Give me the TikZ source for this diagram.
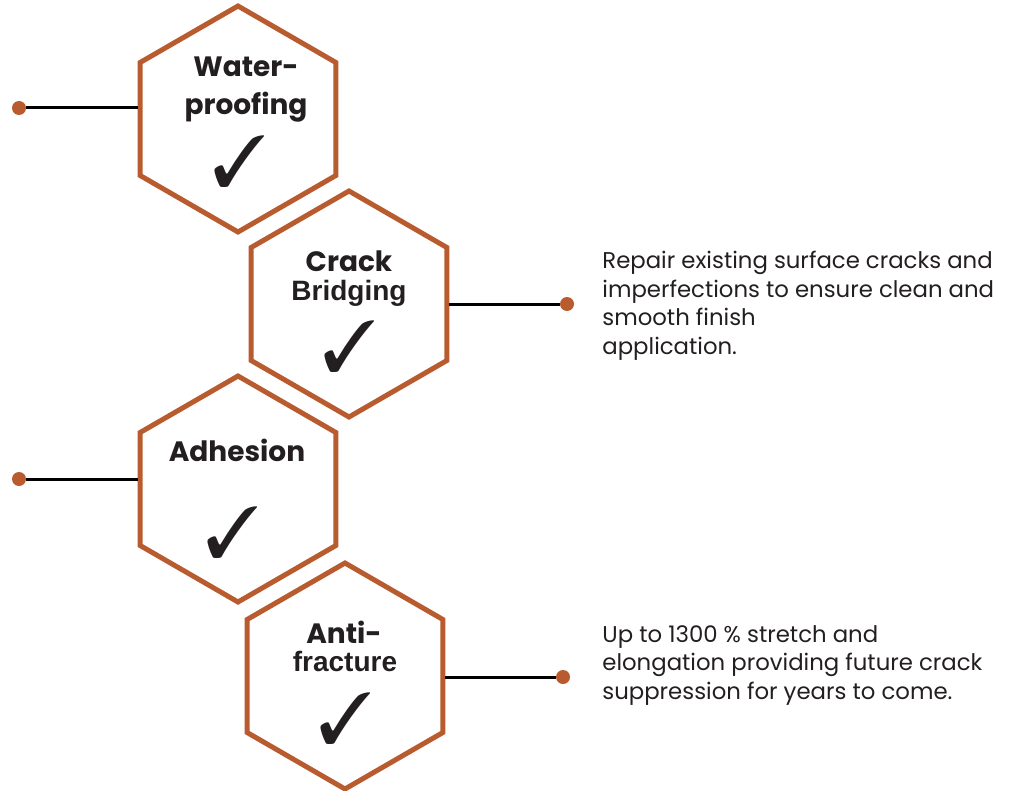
\documentclass[tikz,border=0pt]{standalone}
\usepackage{fontspec}
\setmainfont{Poppins}
\newfontfamily\arialfont{Liberation Sans}
\usepackage{pifont}
\usetikzlibrary{calc,shapes.geometric}
\definecolor{rust}{RGB}{184,92,48}
\definecolor{ink}{RGB}{35,31,32}

\begin{document}
\begin{tikzpicture}[x=0.5pt,y=-0.5pt,black]
	\tikzset{hexa/.style={draw=rust, regular polygon, regular polygon sides=6, shape border rotate=30, minimum size=113pt, inner sep=0pt, line width=2.5pt}}
	\tikzset{titulo/.style={text=ink, anchor=base, inner sep=0pt, font=\bfseries\fontsize{14}{17}\selectfont}}
	\tikzset{marca/.style={text=ink, inner sep=0pt, font=\fontsize{36}{36}\selectfont}}
	\tikzset{punto/.style={circle, fill=rust, inner sep=0pt, minimum size=7pt}}
	\tikzset{texto/.style={text=ink, anchor=north west, inner sep=0pt, align=left, font=\fontsize{11.4}{14.25}\selectfont}}
	\useasboundingbox (0,0) rectangle (1027,791);
	\node[hexa] at (238,119) (W){};
	\node[hexa] at (349,304) (CB){};
	\node[hexa] at (238,489) (AD){};
	\node[hexa] at (345,676) (AF){};
	\node[titulo] at ($(W)+(8,-42)$) (Wa){Water-};
	\node[titulo] at ($(W)+(8,-4)$) (Wb){proofing};
	\node[titulo] at ($(CB)+(0,-33)$) (CBa){Crack};
	\node[titulo] at ($(CB)+(0,-4)$) (CBb){\arialfont\bfseries Bridging};
	\node[titulo] at ($(AD)+(-1,-28)$) (ADa){Adhesion};
	\node[titulo] at ($(AF)+(-1,-33)$) (AFa){Anti-};
	\node[titulo] at ($(AF)+(0,-5)$) (AFb){\arialfont\bfseries fracture};
	\node[marca] at ($(W)+(2,42)$) (Wc){\ding{51}};
	\node[marca] at ($(CB)+(1,42)$) (CBc){\ding{51}};
	\node[marca] at ($(AD)+(-5,43)$) (ADc){\ding{51}};
	\node[marca] at ($(AF)+(1,42)$) (AFc){\ding{51}};
	\node[punto] at (19,108) (p1){};
	\node[punto] at (567,304) (p2){};
	\node[punto] at (19,479) (p3){};
	\node[punto] at (563,677) (p4){};
	\draw[line width=1.5pt] (p1) -- (W.west |- p1);
	\draw[line width=1.5pt] (CB.east) -- (p2);
	\draw[line width=1.5pt] (p3) -- (AD.west |- p3);
	\draw[line width=1.5pt] (AF.east |- p4) -- (p4);
	\node[texto] at (602,251) (t1){Repair existing surface cracks and\\imperfections to ensure clean and\\smooth finish\\application.};
	\node[texto] at (602,625) (t2){Up to 1300 \% stretch and\\elongation providing future crack\\suppression for years to come.};
\end{tikzpicture}
\end{document}
